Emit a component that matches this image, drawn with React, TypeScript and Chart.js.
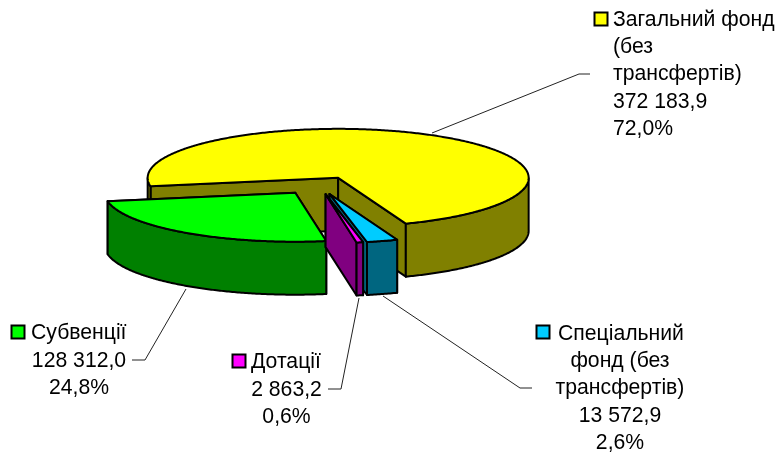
import React, { useEffect, useRef } from "react";
import { Chart, registerables } from "chart.js";

Chart.register(...registerables);

const categories = ["Загальний фонд (без трансфертів)", "Спеціальний фонд (без трансфертів)", "Дотації", "Субвенції"];
const values = [372183.9, 13572.9, 2863.2, 128312.0];
const topColors = ["#FFFF00", "#00CCFF", "#FF00FF", "#00FF00"];
const wallColors = ["#808000", "#006680", "#800080", "#008000"];
const paintOrder = [0, 3, 1, 2];
const valueLabels = ["372 183,9", "13 572,9", "2 863,2", "128 312,0"];
const percentLabels = ["72,0%", "2,6%", "0,6%", "24,8%"];
const nameLines = [
  ["Загальний фонд", "(без", "трансфертів)"],
  ["Спеціальний", "фонд (без", "трансфертів)"],
  ["Дотації"],
  ["Субвенції"],
];

// projection of the tilted pie
const CX = 318.4, CY = 185.5, RX = 190.5, RY = 49, DEPTH = 53;
const EXPLODE_X = 40, EXPLODE_Y = 8.8;

type LabelLayout = {
  key: [number, number];
  first: [number, number, CanvasTextAlign];
  rest: [number, number, CanvasTextAlign];
  step: number;
  leader: [number, number][];
};

const layouts: LabelLayout[] = [
  { key: [594.5, 12.5], first: [613, 26, "left"], rest: [613, 53, "left"], step: 27.3, leader: [[432, 133], [579, 74], [590, 74]] },
  { key: [536.5, 325.5], first: [558, 340, "left"], rest: [620, 367, "center"], step: 27.4, leader: [[383, 296], [520, 388], [532, 388]] },
  { key: [232.5, 354.5], first: [251, 368, "left"], rest: [286.5, 396, "center"], step: 27.4, leader: [[359, 298], [341, 389], [328, 389]] },
  { key: [11.5, 325.5], first: [31, 339, "left"], rest: [79, 367, "center"], step: 27, leader: [[186, 289], [145, 360], [132, 360]] },
];

function pt(ax: number, ay: number, angle: number, drop = 0): [number, number] {
  return [ax + RX * Math.cos(angle), ay + RY * Math.sin(angle) + drop];
}

const pie3d = {
  id: "pie3d",
  beforeDatasetsDraw(chart: any) {
    const ctx: CanvasRenderingContext2D = chart.ctx;
    const arcs = chart.getDatasetMeta(0).data;
    ctx.save();
    ctx.lineJoin = "round";
    ctx.lineCap = "round";
    ctx.lineWidth = 2;
    ctx.strokeStyle = "#000";
    const poly = (points: [number, number][], fill: string) => {
      ctx.beginPath();
      points.forEach((p, i) => (i ? ctx.lineTo(p[0], p[1]) : ctx.moveTo(p[0], p[1])));
      ctx.closePath();
      ctx.fillStyle = fill;
      ctx.fill();
      ctx.stroke();
    };
    paintOrder.forEach((i) => {
      const arc = arcs[i];
      const a0 = arc.startAngle, a1 = arc.endAngle;
      const mid = (a0 + a1) / 2;
      const ax = CX + EXPLODE_X * Math.cos(mid);
      const ay = CY + EXPLODE_Y * Math.sin(mid);
      const n = Math.max(4, Math.ceil((a1 - a0) / 0.01));
      const angles: number[] = [];
      for (let k = 0; k <= n; k++) angles.push(a0 + ((a1 - a0) * k) / n);
      // cut faces
      [a0, a1].forEach((a) => {
        const e = pt(ax, ay, a);
        poly([[ax, ay], e, [e[0], e[1] + DEPTH], [ax, ay + DEPTH]], wallColors[i]);
      });
      // outer wall: only the runs that face the viewer
      let run: number[] = [];
      const flush = () => {
        if (run.length > 1) {
          const top = run.map((a) => pt(ax, ay, a));
          const bottom = run.map((a) => pt(ax, ay, a, DEPTH)).reverse();
          poly([...top, ...bottom], wallColors[i]);
        }
        run = [];
      };
      angles.forEach((a) => {
        if (Math.sin(a) >= 0) run.push(a);
        else flush();
      });
      flush();
      // top face
      poly([[ax, ay], ...angles.map((a) => pt(ax, ay, a))], topColors[i]);
    });
    ctx.restore();
    return false;
  },
  afterDraw(chart: any) {
    const ctx: CanvasRenderingContext2D = chart.ctx;
    ctx.save();
    ctx.font = '21.2px "Liberation Sans", Arial, sans-serif';
    ctx.textBaseline = "alphabetic";
    categories.forEach((_, i) => {
      const l = layouts[i];
      ctx.beginPath();
      l.leader.forEach((p, k) => (k ? ctx.lineTo(p[0], p[1]) : ctx.moveTo(p[0], p[1])));
      ctx.strokeStyle = "#222";
      ctx.lineWidth = 1;
      ctx.stroke();

      ctx.fillStyle = topColors[i];
      ctx.strokeStyle = "#000";
      ctx.lineWidth = 2;
      ctx.fillRect(l.key[0], l.key[1], 13, 13);
      ctx.strokeRect(l.key[0], l.key[1], 13, 13);

      ctx.fillStyle = "#000";
      ctx.textAlign = l.first[2];
      ctx.fillText(nameLines[i][0], l.first[0], l.first[1]);
      ctx.textAlign = l.rest[2];
      [...nameLines[i].slice(1), valueLabels[i], percentLabels[i]].forEach((t, k) => {
        ctx.fillText(t, l.rest[0], l.rest[1] + k * l.step);
      });
    });
    ctx.restore();
  },
};

export default function App() {
  const ref = useRef<HTMLCanvasElement>(null);
  useEffect(() => {
    const chart = new Chart(ref.current!, {
      type: "pie",
      data: {
        labels: categories,
        datasets: [{ data: values, backgroundColor: topColors, borderColor: "#000" }],
      },
      options: {
        animation: false,
        responsive: false,
        rotation: 260,
        plugins: { legend: { display: false }, tooltip: { enabled: false } },
      },
      plugins: [pie3d],
    } as any);
    return () => chart.destroy();
  }, []);
  return (
    <div style={{ position: "fixed", left: 0, top: 0, width: 778, height: 452, background: "#fff" }}>
      <canvas ref={ref} width={778} height={452} style={{ display: "block" }} />
    </div>
  );
}
